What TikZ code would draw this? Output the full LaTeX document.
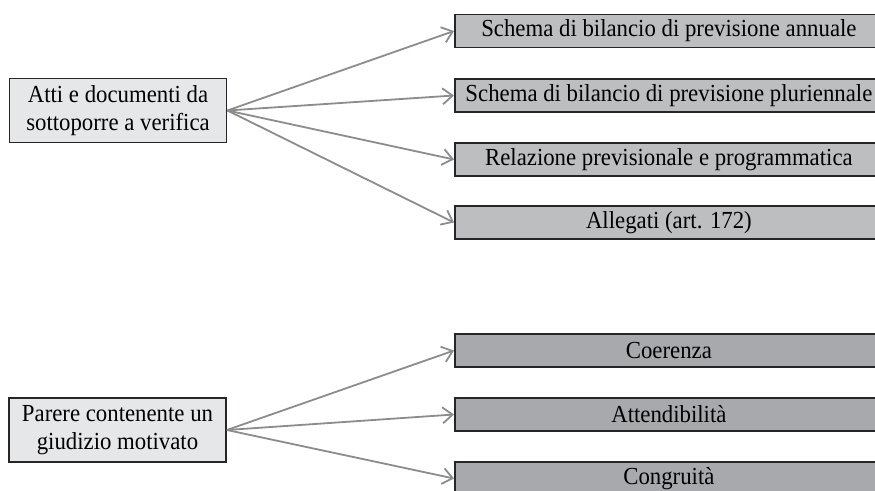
\documentclass[tikz,border=0pt]{standalone}
\usepackage{fontspec}
\setmainfont[FakeStretch=0.93]{Liberation Serif}
\usetikzlibrary{arrows.meta}
\definecolor{SourceGray}{HTML}{E6E7E8}
\definecolor{DocGray}{HTML}{BDBEC0}
\definecolor{JudgeGray}{HTML}{A7A9AC}
\definecolor{LinkGray}{HTML}{8C8C8C}

\begin{document}
\begin{tikzpicture}[
  x=1pt,y=-1pt,
  font=\fontsize{24.5}{28}\selectfont,
  source/.style={draw=black!85,line width=1.8pt,fill=SourceGray,align=center,minimum width=217pt,minimum height=64pt,inner sep=0pt},
  target/.style={draw=black!85,line width=1.8pt,anchor=west,minimum width=428pt,minimum height=33pt,inner sep=0pt},
  docbox/.style={target,fill=DocGray},
  judgebox/.style={target,fill=JudgeGray},
  link/.style={-{Straight Barb[length=10pt,width=16pt]},line width=1.8pt,draw=LinkGray}
]
\useasboundingbox (0,0) rectangle (875,490);
\clip (0,0) rectangle (875,490);

% Atti e documenti
\node[source] (atti) at (118,110.5) {Atti e documenti da\\sottoporre a verifica};
\foreach \lab/\y [count=\k] in {Schema di bilancio di previsione annuale/31,
                                Schema di bilancio di previsione pluriennale/95.5,
                                Relazione previsionale e programmatica/159.5,
                                Allegati (art. 172)/222.5} {
  \node[docbox] (doc\k) at (454,\y) {\lab};
  \draw[link] (atti.east) -- (doc\k.west);
}

% Parere
\node[source] (parere) at (117.5,430) {Parere contenente un\\giudizio motivato};
\foreach \lab/\y [count=\k] in {Coerenza/350.5,Attendibilità/414.5,Congruità/478.5} {
  \node[judgebox] (giudizio\k) at (454,\y) {\lab};
  \draw[link] (parere.east) -- (giudizio\k.west);
}

\end{tikzpicture}
\end{document}
